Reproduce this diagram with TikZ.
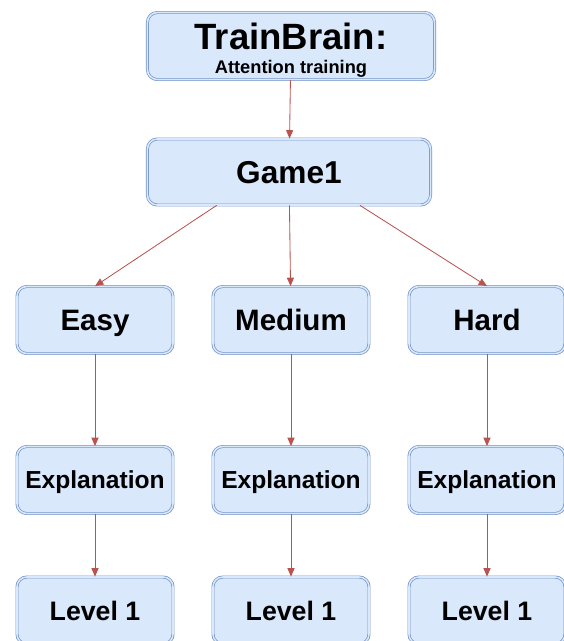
\documentclass[tikz,border=0pt]{standalone}
\usepackage{fontspec}
\setmainfont{Liberation Sans}
\usetikzlibrary{arrows.meta,calc}
\definecolor{boxfill}{HTML}{DAE8FC}
\definecolor{boxline}{HTML}{7393C6}
\definecolor{arrowred}{HTML}{B85450}

\begin{document}
\begin{tikzpicture}[x=0.025cm, y=-0.025cm,
    every node/.append style={draw=boxline, double=boxfill, double distance=1.1pt, line width=0.5pt,
        fill=boxfill, rounded corners=7pt, font=\bfseries, inner sep=0pt, align=center},
    stage/.style={minimum width=3.9cm, minimum height=1.675cm, text depth=0pt},
    level/.style={stage, font=\bfseries\fontsize{21}{24}\selectfont, text height=15pt},
    expl/.style={stage, font=\bfseries\fontsize{17.5}{20}\selectfont, text height=12.6pt},
    lvl/.style={stage, font=\bfseries\fontsize{19}{22}\selectfont, text height=13.7pt},
    arr/.style={draw=arrowred, line width=0.6pt, -{Triangle[length=6pt,width=5pt]}}]
    \useasboundingbox (0,0) rectangle (564,641);

    \node[minimum width=7.175cm, minimum height=1.675cm] (top) at (291,46)
        {\fontsize{26}{26}\selectfont\rule{0pt}{24.5pt}TrainBrain:\\[5pt]\fontsize{13}{15}\selectfont Attention training};
    \node[stage, minimum width=7.075cm, minimum height=1.65cm, font=\bfseries\fontsize{22.5}{26}\selectfont,
        text height=16.2pt] (game) at (289,172) {Game1};

    \node[level] (easy) at (95,320) {Easy};
    \node[level] (medium) at (291,320) {Medium};
    \node[level] (hard) at (487,320) {Hard};

    \node[expl] (explEasy) at (95,480) {Explanation};
    \node[expl] (explMedium) at (291,480) {Explanation};
    \node[expl] (explHard) at (487,480) {Explanation};

    \node[lvl] (levelEasy) at (95,610.5) {Level 1};
    \node[lvl] (levelMedium) at (291,610.5) {Level 1};
    \node[lvl] (levelHard) at (487,610.5) {Level 1};

    \draw[arr] (top) -- (game);
    \draw[arr] ($(game.south west)!0.245!(game.south east)$) -- (easy.north);
    \draw[arr] (game) -- (medium);
    \draw[arr] ($(game.south west)!0.75!(game.south east)$) -- (hard.north);

    \draw[arr] (easy) -- (explEasy);
    \draw[arr] (medium) -- (explMedium);
    \draw[arr] (hard) -- (explHard);

    \draw[arr] (explEasy) -- (levelEasy);
    \draw[arr] (explMedium) -- (levelMedium);
    \draw[arr] (explHard) -- (levelHard);
\end{tikzpicture}
\end{document}
